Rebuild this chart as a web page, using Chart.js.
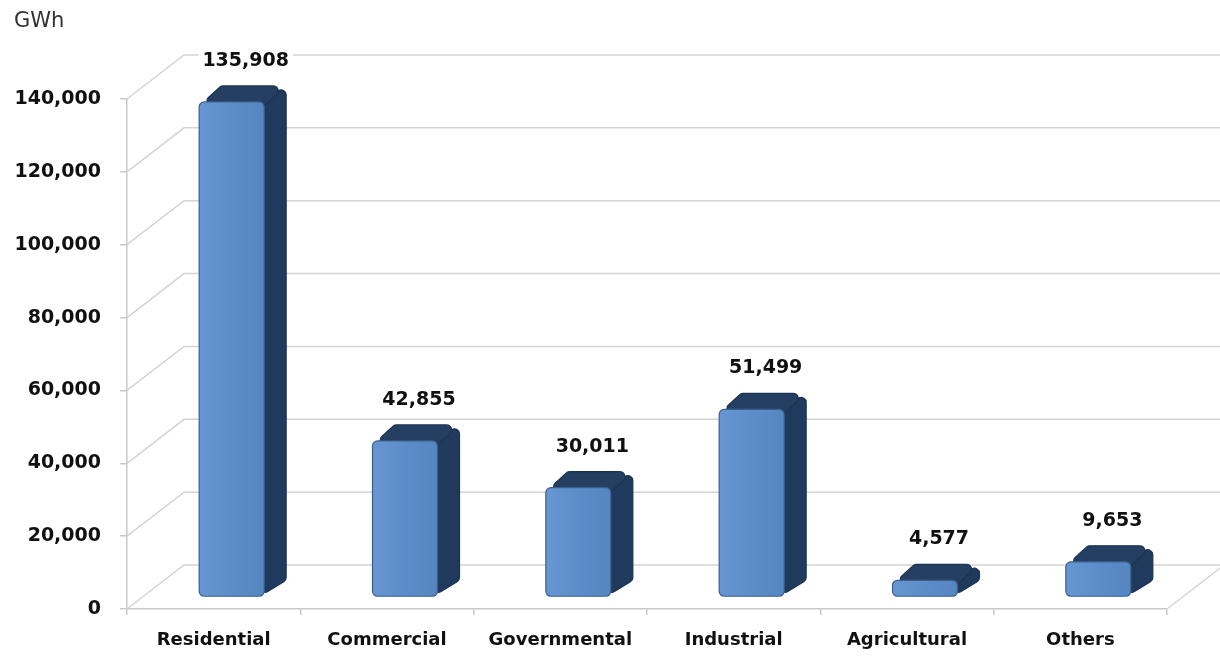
<!DOCTYPE html>
<html>
    <head>
        <title>Electricity consumption by sector</title>
        <style>
            body { margin: 0; background: #fff; }
        </style>
    </head>
    <body>
        <canvas id="usage" width="1220" height="657"></canvas>

        <script src="https://cdn.jsdelivr.net/npm/chart.js"></script>
        <script>
            const sectors = ['Residential', 'Commercial', 'Governmental', 'Industrial', 'Agricultural', 'Others'];
            const gwh = [135908, 42855, 30011, 51499, 4577, 9653];
            const yTicks = [0, 20000, 40000, 60000, 80000, 100000, 120000, 140000];
            const unitLabel = 'GWh';

            const FONT = "'DejaVu Sans', 'Open Sans', sans-serif";
            // depth of the "room" and of each box, in px
            const WALL_DX = 57, WALL_DY = -44;
            const BAR_SX = 18, BAR_SY = -12;
            const BOX_DX = 22, BOX_DY = -16;

            const fmt = v => v.toLocaleString('en-US');

            function roundPoly(ctx, pts, r) {
                ctx.beginPath();
                const n = pts.length;
                for (let i = 0; i < n; i++) {
                    const p0 = pts[(i + n - 1) % n], p1 = pts[i], p2 = pts[(i + 1) % n];
                    const a = { x: (p0.x + p1.x) / 2, y: (p0.y + p1.y) / 2 };
                    if (i === 0) ctx.moveTo(a.x, a.y);
                    ctx.arcTo(p1.x, p1.y, p2.x, p2.y, r);
                }
                ctx.closePath();
            }

            const room = {
                id: 'room',
                beforeDatasetsDraw(chart) {
                    const ctx = chart.ctx;
                    const { left, right, bottom } = chart.chartArea;
                    const y = chart.scales.y;
                    ctx.save();
                    ctx.strokeStyle = '#d4d4d4';
                    ctx.lineWidth = 1.5;
                    yTicks.forEach(v => {
                        const py = y.getPixelForValue(v);
                        ctx.beginPath();
                        ctx.moveTo(left, py);
                        ctx.lineTo(left + WALL_DX, py + WALL_DY);
                        ctx.lineTo(chart.width, py + WALL_DY);
                        ctx.stroke();
                    });
                    ctx.beginPath();
                    ctx.moveTo(right, bottom);
                    ctx.lineTo(right + WALL_DX, bottom + WALL_DY);
                    ctx.stroke();

                    ctx.fillStyle = '#333';
                    ctx.font = '21px ' + FONT;
                    ctx.textBaseline = 'middle';
                    ctx.fillText(unitLabel, 14, 22);
                    ctx.restore();
                },
                afterDatasetsDraw(chart) {
                    const ctx = chart.ctx;
                    const bars = chart.getDatasetMeta(0).data;
                    ctx.save();
                    bars.forEach((bar, i) => {
                        const p = bar.getProps(['x', 'y', 'base', 'width'], true);
                        const l = p.x - p.width / 2 + BAR_SX, r = p.x + p.width / 2 + BAR_SX;
                        const t = p.y + BAR_SY, b = p.base + BAR_SY;
                        ctx.lineWidth = 1.2;
                        ctx.strokeStyle = '#1c3350';

                        // side
                        ctx.fillStyle = '#1f3a5d';
                        roundPoly(ctx, [
                            { x: r - 4, y: t }, { x: r + BOX_DX, y: t + BOX_DY },
                            { x: r + BOX_DX, y: b + BOX_DY }, { x: r - 4, y: b }
                        ], 5);
                        ctx.fill(); ctx.stroke();
                        // top
                        ctx.fillStyle = '#243f62';
                        roundPoly(ctx, [
                            { x: l, y: t + 4 }, { x: l + BOX_DX, y: t + BOX_DY },
                            { x: r + BOX_DX, y: t + BOX_DY }, { x: r, y: t + 4 }
                        ], 5);
                        ctx.fill(); ctx.stroke();
                        // front
                        const g = ctx.createLinearGradient(l, 0, r, 0);
                        g.addColorStop(0, '#6797d2');
                        g.addColorStop(0.5, '#5c8dca');
                        g.addColorStop(1, '#5586c2');
                        ctx.fillStyle = g;
                        roundPoly(ctx, [
                            { x: l, y: t }, { x: r, y: t }, { x: r, y: b }, { x: l, y: b }
                        ], 5);
                        ctx.fill();
                        ctx.strokeStyle = '#3c5f8a';
                        ctx.stroke();

                        // value label
                        const txt = fmt(gwh[i]);
                        ctx.font = 'bold 19px ' + FONT;
                        const w = ctx.measureText(txt).width;
                        const cx = (l + r) / 2 + BOX_DX / 2 + 3;
                        const cy = t + BOX_DY - 25;
                        ctx.fillStyle = '#fff';
                        ctx.fillRect(cx - w / 2 - 4, cy - 12, w + 8, 24);
                        ctx.fillStyle = '#111';
                        ctx.textAlign = 'center';
                        ctx.textBaseline = 'middle';
                        ctx.fillText(txt, cx, cy);
                    });
                    ctx.restore();
                }
            };

            new Chart(document.getElementById('usage'), {
                type: 'bar',
                data: {
                    labels: sectors,
                    datasets: [{
                        label: unitLabel,
                        data: gwh,
                        backgroundColor: 'rgba(0,0,0,0)',
                        categoryPercentage: 1,
                        barPercentage: 0.375
                    }]
                },
                options: {
                    responsive: false,
                    animation: false,
                    layout: { padding: { top: 99, right: 53, bottom: 0, left: 0 } },
                    plugins: {
                        legend: { display: false },
                        tooltip: { enabled: false }
                    },
                    scales: {
                        x: {
                            afterFit: s => { s.height = 48; },
                            grid: { offset: true, drawOnChartArea: false, tickLength: 6, color: '#c8c8c8', lineWidth: 1.5 },
                            border: { color: '#c8c8c8', width: 1.5 },
                            ticks: { padding: 15, color: '#111', font: { family: FONT, size: 18, weight: 'bold' } }
                        },
                        y: {
                            min: 0,
                            max: 140000,
                            afterFit: s => { s.width = 127; },
                            afterBuildTicks: s => { s.ticks = yTicks.map(v => ({ value: v })); },
                            grid: { drawOnChartArea: false, tickLength: 7, color: '#c8c8c8', lineWidth: 1.5 },
                            border: { color: '#c8c8c8', width: 1.5 },
                            ticks: {
                                padding: 19,
                                color: '#111',
                                font: { family: FONT, size: 19, weight: 'bold' },
                                callback: v => fmt(v)
                            }
                        }
                    }
                },
                plugins: [room]
            });
        </script>
    </body>
</html>
